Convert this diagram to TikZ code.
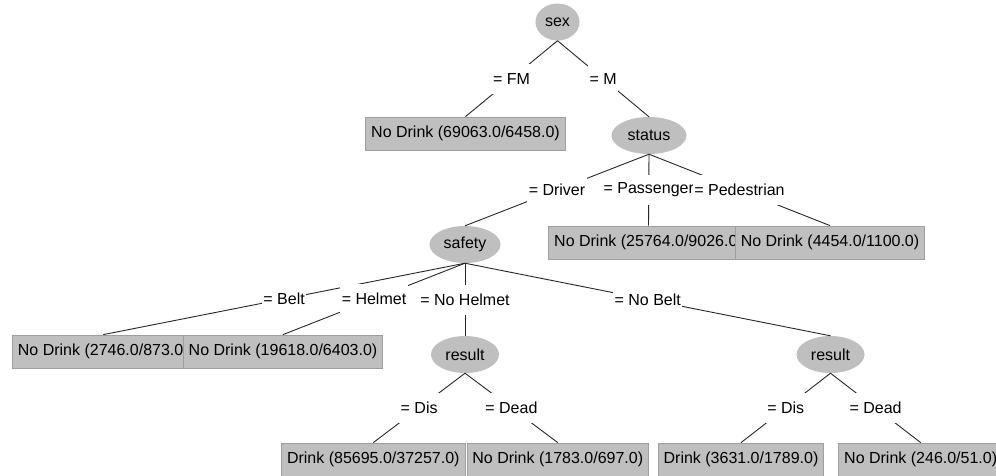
\documentclass[tikz,border=0pt]{standalone}
\usepackage{fontspec}
\setmainfont{Liberation Sans}
\usetikzlibrary{shapes.geometric}
\newcommand{\treefont}{\fontsize{16}{19}\selectfont}
\tikzset{
  attrnode/.style={ellipse, fill=black!25, inner sep=0pt, minimum height=37pt, font=\treefont},
  leafnode/.style={rectangle, fill=black!25, draw=black!38, line width=0.8pt, inner xsep=5.5pt,
    inner ysep=0pt, minimum height=33pt, font=\treefont},
  branchlbl/.style={fill=white, inner xsep=1.5pt, inner ysep=0pt, minimum height=30pt, font=\treefont},
  branch/.style={draw=black!85, line width=0.9pt},
}
\begin{document}
\begin{tikzpicture}[x=1pt, y=-1pt]
  \clip (0,0) rectangle (996,475);
  % attribute tests
  \node[attrnode, minimum width=44pt] (sex) at (557.5,22) {sex};
  \node[attrnode, minimum width=75pt] (status) at (649,135.5) {status};
  \node[attrnode, minimum width=71pt] (safety) at (465,244.5) {safety};
  \node[attrnode, minimum width=68pt] (res1) at (465,354.5) {result};
  \node[attrnode, minimum width=68pt] (res2) at (830.5,354.5) {result};
  % leaves
  \node[leafnode] (fm) at (465.5,133.5) {No Drink (69063.0/6458.0)};
  \node[leafnode] (pass) at (648.5,242.5) {No Drink (25764.0/9026.0)};
  \node[leafnode] (ped) at (830,242.5) {No Drink (4454.0/1100.0)};
  \node[leafnode] (belt) at (103.3,351.5) {No Drink (2746.0/873.0)};
  \node[leafnode] (helmet) at (283,351.5) {No Drink (19618.0/6403.0)};
  \node[leafnode] (dis1) at (373.3,459.5) {Drink (85695.0/37257.0)};
  \node[leafnode] (dead1) at (557.8,459.5) {No Drink (1783.0/697.0)};
  \node[leafnode] (dis2) at (741,459.5) {Drink (3631.0/1789.0)};
  \node[leafnode] (dead2) at (920.7,459.5) {No Drink (246.0/51.0)};
  % branches
  \foreach \p/\c/\t in {sex/fm/FM, sex/status/M, status/safety/Driver, status/pass/Passenger,
      status/ped/Pedestrian, safety/belt/Belt, safety/helmet/Helmet, safety/res1/No Helmet,
      safety/res2/No Belt, res1/dis1/Dis, res1/dead1/Dead, res2/dis2/Dis, res2/dead2/Dead}
    \draw[branch] (\p.south) -- node[branchlbl] {= \t} (\c.north);
\end{tikzpicture}
\end{document}
